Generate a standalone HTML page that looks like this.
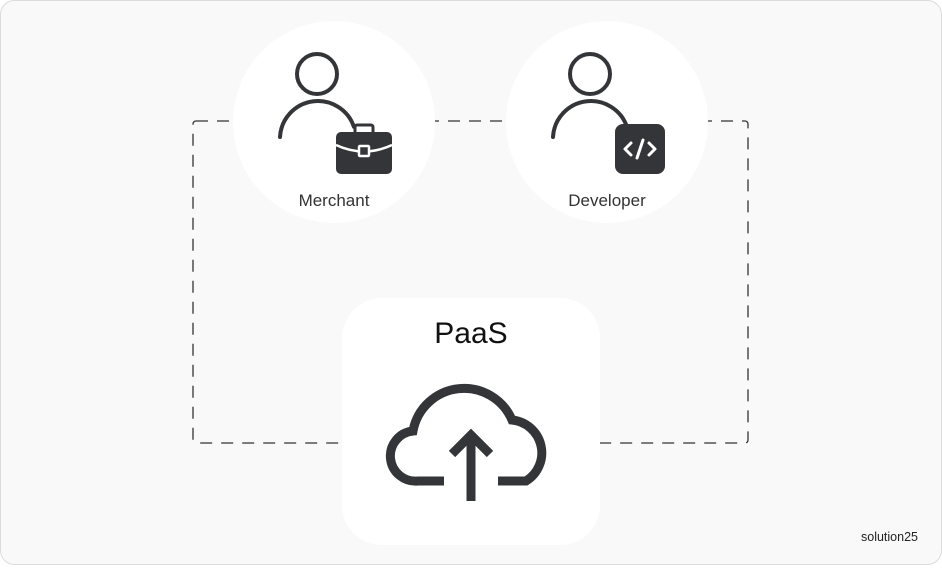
<!DOCTYPE html>
<html><head><style>
html,body{margin:0;padding:0;background:#fff;}
body{width:942px;height:565px;overflow:hidden;font-family:"Liberation Sans",sans-serif;}
</style></head><body>
<svg width="942" height="565" viewBox="0 0 942 565" xmlns="http://www.w3.org/2000/svg">
<rect x="0.5" y="0.5" width="941" height="564" rx="14" fill="#f9f9f9" stroke="#dcdcdc"/>
<rect x="193" y="121" width="555" height="322" rx="3" fill="none" stroke="#333" stroke-width="1.3" stroke-dasharray="12,9"/>
<circle cx="334" cy="122" r="101" fill="#fff"/>
<circle cx="607" cy="122" r="101" fill="#fff"/>
<rect x="342" y="298" width="258" height="247" rx="40" fill="#fff"/>
<g fill="none" stroke="#333538" stroke-width="4" stroke-linecap="round">
<circle cx="317" cy="74" r="20"/>
<path d="M280,137 A38,38 0 0 1 354,127"/>
<circle cx="590" cy="74" r="20"/>
<path d="M553,137 A38,38 0 0 1 627,127"/>
</g>
<rect x="355" y="125" width="18" height="10" rx="2" fill="none" stroke="#333538" stroke-width="3"/>
<rect x="336" y="132" width="56" height="42" rx="5" fill="#333538"/>
<path d="M336,145 Q364,158 392,145" fill="none" stroke="#fff" stroke-width="2.5"/>
<rect x="359" y="146" width="10" height="10" rx="1" fill="#333538" stroke="#fff" stroke-width="2.5"/>
<rect x="615" y="124" width="50" height="50" rx="8" fill="#333538"/>
<g fill="none" stroke="#fff" stroke-width="3" stroke-linecap="round" stroke-linejoin="round">
<path d="M631,143 L625,149 L631,155"/><path d="M649,143 L655,149 L649,155"/><path d="M643,140 L637,158"/>
</g>
<text x="334" y="206" text-anchor="middle" font-size="17" fill="#333">Merchant</text>
<text x="607" y="206" text-anchor="middle" font-size="17" fill="#333">Developer</text>
<text x="471" y="343" text-anchor="middle" font-size="30" fill="#111">PaaS</text>
<g fill="none" stroke="#333538" stroke-width="9">
<path d="M444,481 H418 A25,25 0 0 1 413,431 A52,52 0 0 1 512,420 A33,33 0 0 1 526,481 H498"/>
<path d="M471,436 V501"/>
<path d="M452,454 L471,435 L490,454" stroke-linejoin="miter"/>
</g>
<text x="918" y="541" text-anchor="end" font-size="12.5" fill="#222">solution25</text>
</svg>
</body></html>
